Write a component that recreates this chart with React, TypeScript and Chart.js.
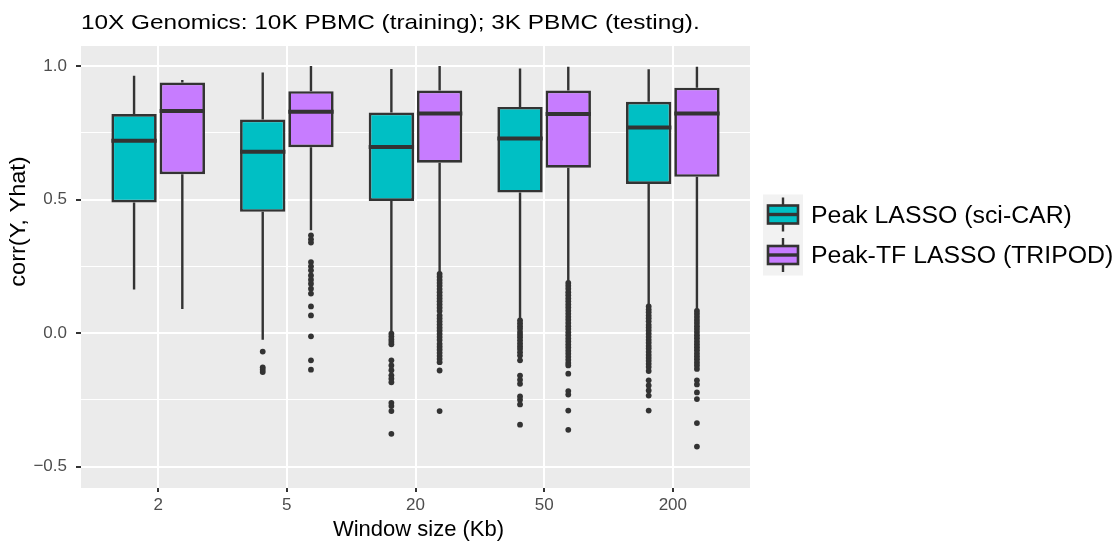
import React, { useEffect, useRef } from "react";
import { Chart, registerables } from "chart.js";

Chart.register(...registerables);

// ---------------- data ----------------
const titleText = "10X Genomics: 10K PBMC (training); 3K PBMC (testing).";
const xTitle = "Window size (Kb)";
const yTitle = "corr(Y, Yhat)";

const categories = ["2", "5", "20", "50", "200"];
const seriesNames = ["Peak LASSO (sci-CAR)", "Peak-TF LASSO (TRIPOD)"];
const seriesColors = ["#00BFC4", "#C77CFF"];

const yTickValues = [-0.5, -0.25, 0, 0.25, 0.5, 0.75, 1.0];
const yTickLabels = ["\u22120.5", "", "0.0", "", "0.5", "", "1.0"];

// Peak LASSO (sci-CAR)
const peakMin = [0.163, -0.025, 0.004, 0.05, 0.104];
const peakQ1 = [0.489, 0.454, 0.495, 0.526, 0.558];
const peakMedian = [0.72, 0.679, 0.697, 0.729, 0.77];
const peakQ3 = [0.82, 0.8, 0.826, 0.847, 0.866];
const peakMax = [0.964, 0.976, 0.989, 0.991, 0.988];
const peakOutliers = [
  [],
  [-0.069, -0.128, -0.137, -0.146],
  [-0.002, -0.013, -0.024, -0.033, -0.042, -0.102, -0.121, -0.139, -0.158, -0.171, -0.184, -0.261, -0.273, -0.292, -0.377],
  [0.048, 0.037, 0.026, 0.016, 0.004, -0.006, -0.016, -0.027, -0.039, -0.05, -0.06, -0.072, -0.084, -0.102, -0.159, -0.175, -0.19, -0.237, -0.25, -0.267, -0.343],
  [0.1, 0.088, 0.078, 0.066, 0.056, 0.044, 0.031, 0.021, 0.01, -0.002, -0.014, -0.025, -0.036, -0.048, -0.058, -0.07, -0.082, -0.093, -0.104, -0.115, -0.127, -0.142, -0.177, -0.196, -0.215, -0.234, -0.29],
];

// Peak-TF LASSO (TRIPOD)
const tfMin = [0.09, 0.385, 0.229, 0.191, 0.088];
const tfQ1 = [0.595, 0.696, 0.638, 0.619, 0.585];
const tfMedian = [0.832, 0.829, 0.822, 0.82, 0.822];
const tfQ3 = [0.938, 0.906, 0.908, 0.908, 0.919];
const tfMax = [0.948, 1.0, 1.0, 0.997, 0.997];
const tfOutliers = [
  [],
  [0.366, 0.351, 0.339, 0.266, 0.25, 0.235, 0.216, 0.2, 0.185, 0.166, 0.148, 0.1, 0.066, -0.012, -0.102, -0.137],
  [0.222, 0.211, 0.199, 0.188, 0.177, 0.165, 0.153, 0.141, 0.13, 0.119, 0.107, 0.095, 0.083, 0.066, 0.055, 0.043, 0.032, 0.02, 0.009, -0.003, -0.015, -0.026, -0.04, -0.051, -0.062, -0.074, -0.085, -0.097, -0.109, -0.14, -0.292],
  [0.188, 0.177, 0.166, 0.153, 0.142, 0.13, 0.119, 0.107, 0.096, 0.084, 0.072, 0.061, 0.05, 0.038, 0.026, 0.015, 0.003, -0.008, -0.02, -0.031, -0.043, -0.054, -0.066, -0.077, -0.089, -0.1, -0.112, -0.121, -0.152, -0.217, -0.23, -0.29, -0.362],
  [0.083, 0.072, 0.061, 0.049, 0.038, 0.026, 0.015, 0.004, -0.008, -0.019, -0.031, -0.042, -0.053, -0.064, -0.076, -0.087, -0.098, -0.11, -0.121, -0.134, -0.177, -0.192, -0.222, -0.247, -0.337, -0.425],
];

const seriesStats = [
  { min: peakMin, q1: peakQ1, median: peakMedian, q3: peakQ3, max: peakMax, outliers: peakOutliers },
  { min: tfMin, q1: tfQ1, median: tfMedian, q3: tfQ3, max: tfMax, outliers: tfOutliers },
];

// ---------------- styling ----------------
const FONT = '"Liberation Sans", Arial, Helvetica, sans-serif';
const DARK = "#333333";

function drawText(
  ctx: CanvasRenderingContext2D,
  text: string,
  x: number,
  y: number,
  size: number,
  sx: number,
  align: CanvasTextAlign,
  baseline: CanvasTextBaseline,
  rotate = 0,
  color = "#000000"
) {
  ctx.save();
  ctx.translate(x, y);
  if (rotate) ctx.rotate(rotate);
  ctx.scale(sx, 1);
  ctx.font = `${size}px ${FONT}`;
  ctx.fillStyle = color;
  ctx.textAlign = align;
  ctx.textBaseline = baseline;
  ctx.fillText(text, 0, 0);
  ctx.restore();
}

function drawLegendKey(ctx: CanvasRenderingContext2D, cx: number, cy: number, color: string) {
  ctx.save();
  ctx.strokeStyle = DARK;
  ctx.lineWidth = 2.4;
  ctx.beginPath();
  ctx.moveTo(cx, cy - 17);
  ctx.lineTo(cx, cy + 17);
  ctx.stroke();
  ctx.fillStyle = color;
  ctx.fillRect(cx - 15, cy - 9, 30, 18);
  ctx.lineWidth = 2.6;
  ctx.strokeRect(cx - 15, cy - 9, 30, 18);
  ctx.lineWidth = 3.4;
  ctx.beginPath();
  ctx.moveTo(cx - 16, cy);
  ctx.lineTo(cx + 16, cy);
  ctx.stroke();
  ctx.restore();
}

const boxPlugin = {
  id: "boxExtras",
  beforeDraw(chart: any) {
    const { ctx, chartArea } = chart;
    ctx.save();
    ctx.fillStyle = "#FFFFFF";
    ctx.fillRect(0, 0, chart.width, chart.height);
    ctx.fillStyle = "#EBEBEB";
    ctx.fillRect(chartArea.left, chartArea.top, chartArea.right - chartArea.left, chartArea.bottom - chartArea.top);
    ctx.restore();
  },
  afterDatasetsDraw(chart: any) {
    const { ctx } = chart;
    const yScale = chart.scales.y;
    seriesStats.forEach((s, d) => {
      const meta = chart.getDatasetMeta(d);
      meta.data.forEach((bar: any, i: number) => {
        const { x, width } = bar.getProps(["x", "width"], true);
        ctx.save();
        ctx.strokeStyle = DARK;
        ctx.lineWidth = 2.4;
        ctx.beginPath();
        ctx.moveTo(x, yScale.getPixelForValue(s.q3[i]));
        ctx.lineTo(x, yScale.getPixelForValue(s.max[i]));
        ctx.moveTo(x, yScale.getPixelForValue(s.q1[i]));
        ctx.lineTo(x, yScale.getPixelForValue(s.min[i]));
        ctx.stroke();
        ctx.lineWidth = 4;
        const ym = yScale.getPixelForValue(s.median[i]);
        ctx.beginPath();
        ctx.moveTo(x - width / 2, ym);
        ctx.lineTo(x + width / 2, ym);
        ctx.stroke();
        ctx.fillStyle = DARK;
        s.outliers[i].forEach((v: number) => {
          ctx.beginPath();
          ctx.arc(x, yScale.getPixelForValue(v), 2.9, 0, Math.PI * 2);
          ctx.fill();
        });
        ctx.restore();
      });
    });
  },
  afterDraw(chart: any) {
    const { ctx, chartArea } = chart;
    // title
    drawText(ctx, titleText, chartArea.left, 28.5, 21, 1.16, "left", "alphabetic");
    // axis titles
    drawText(ctx, xTitle, (chartArea.left + chartArea.right) / 2 + 3, 535.5, 22, 1.0, "center", "alphabetic");
    drawText(ctx, yTitle, 24.5, 221.5, 22, 1.07, "center", "alphabetic", -Math.PI / 2);
    // legend
    const keyLeft = chartArea.right + 13;
    const rowCenters = [214.5, 255];
    ctx.save();
    ctx.fillStyle = "#F2F2F2";
    ctx.fillRect(keyLeft, 194.5, 40, 81);
    ctx.restore();
    seriesNames.forEach((name, d) => {
      drawLegendKey(ctx, keyLeft + 20, rowCenters[d], seriesColors[d]);
      drawText(ctx, name, keyLeft + 48, rowCenters[d] + 8.3, 23, 1.08, "left", "alphabetic");
    });
  },
};

export default function App() {
  const canvasRef = useRef<HTMLCanvasElement | null>(null);

  useEffect(() => {
    const canvas = canvasRef.current;
    if (!canvas) return;
    const chart = new Chart(canvas, {
      type: "bar",
      data: {
        datasets: seriesStats.map((s, d) => ({
          label: seriesNames[d],
          data: categories.map((_, i) => ({ x: i, y: [s.q1[i], s.q3[i]] })),
          backgroundColor: seriesColors[d],
          borderColor: DARK,
          borderWidth: 2.7,
          borderSkipped: false,
          categoryPercentage: 0.75,
          barPercentage: 0.94,
        })) as any,
      },
      options: {
        responsive: false,
        animation: false,
        devicePixelRatio: 1,
        layout: { padding: { top: 46, right: 367, left: 0, bottom: 0 } },
        plugins: {
          legend: { display: false },
          title: { display: false },
          tooltip: { enabled: false },
        },
        scales: {
          x: {
            type: "linear",
            min: -0.6,
            max: 4.6,
            offset: false,
            bounds: "data",
            afterBuildTicks: (scale: any) => {
              scale.ticks = categories.map((_, i) => ({ value: i }));
            },
            afterFit: (scale: any) => {
              scale.height = 56;
            },
            ticks: {
              autoSkip: false,
              maxRotation: 0,
              padding: 3,
              color: "#4D4D4D",
              font: { family: FONT, size: 17 },
              callback: (_v: any, index: number) => categories[index],
            },
            grid: {
              color: "#FFFFFF",
              lineWidth: 2,
              offset: false,
              tickColor: DARK,
              tickLength: 4,
              tickWidth: 2,
            },
            border: { display: false },
          },
          y: {
            type: "linear",
            min: -0.58,
            max: 1.075,
            bounds: "data",
            afterBuildTicks: (scale: any) => {
              scale.ticks = yTickValues.map((v) => ({ value: v }));
            },
            afterFit: (scale: any) => {
              scale.width = 81;
            },
            ticks: {
              autoSkip: false,
              padding: 9,
              color: "#4D4D4D",
              font: { family: FONT, size: 17 },
              callback: (_v: any, index: number) => yTickLabels[index],
            },
            grid: {
              color: "#FFFFFF",
              lineWidth: (c: any) => (yTickLabels[c.index] ? 2 : 1),
              tickColor: (c: any) => (yTickLabels[c.index] ? DARK : "rgba(0,0,0,0)"),
              tickLength: 5,
              tickWidth: 2,
            },
            border: { display: false },
          },
        },
      } as any,
      plugins: [boxPlugin as any],
    });
    return () => chart.destroy();
  }, []);

  return (
    <div style={{ position: "fixed", left: 0, top: 0, width: 1117, height: 544, background: "#FFFFFF" }}>
      <canvas ref={canvasRef} width={1117} height={544} style={{ display: "block" }} />
    </div>
  );
}
